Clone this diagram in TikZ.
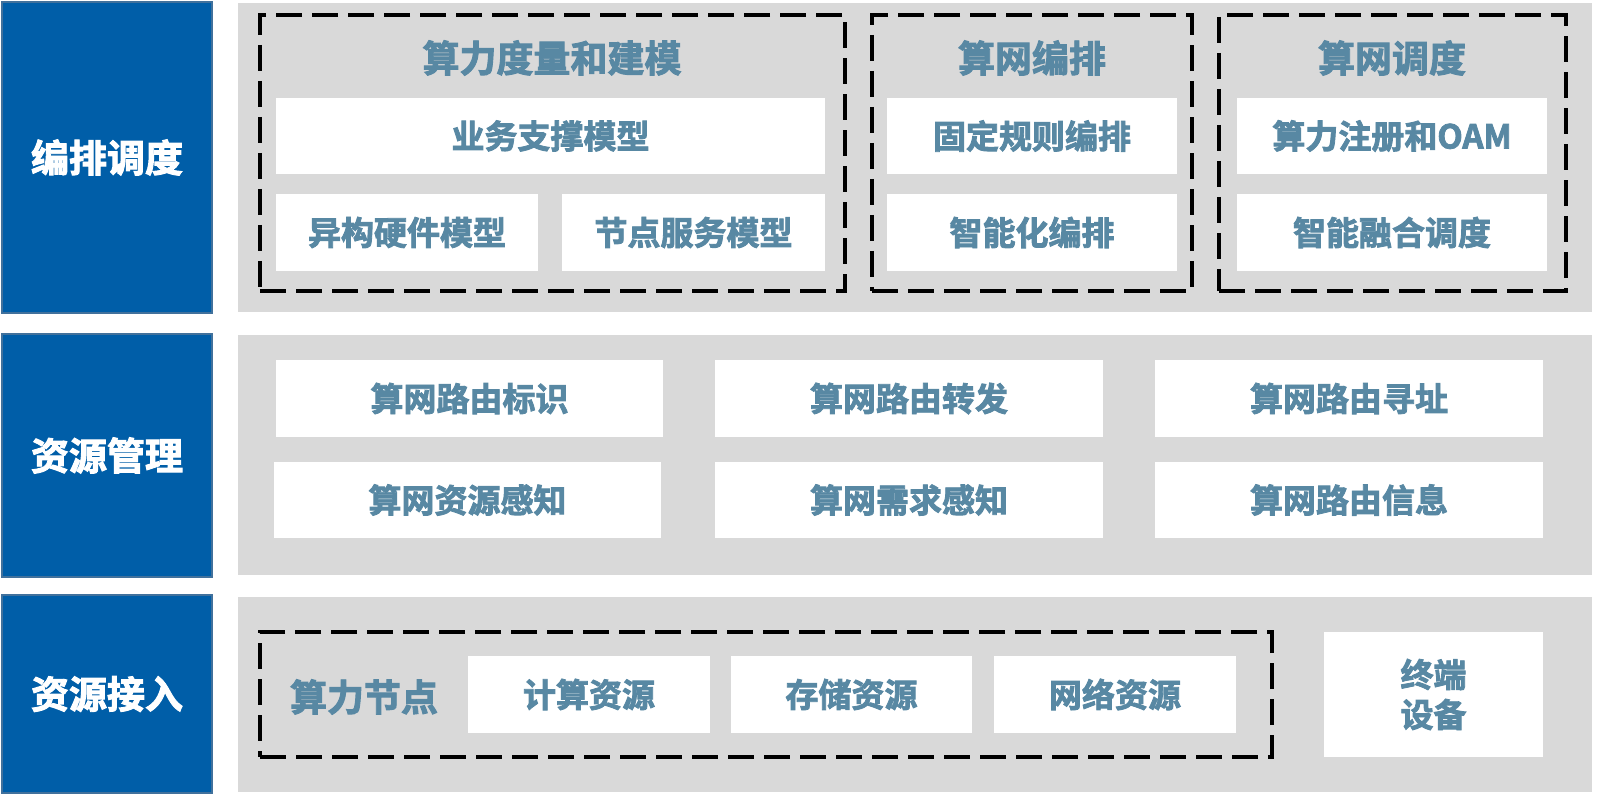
\documentclass[tikz,border=0pt]{standalone}
\usepackage{fontspec}
\setmainfont{Noto Sans CJK SC}[BoldFont={* Bold}]
\newfontfamily\cjkb{Noto Sans CJK SC Bold}[FakeBold=2.5]
\definecolor{bluefill}{RGB}{0,94,168}
\definecolor{blueline}{RGB}{65,113,156}
\definecolor{panelgray}{RGB}{217,217,217}
\definecolor{txt}{RGB}{88,136,163}
\newcommand\mybox[7]{%
  \node[#7, minimum width={(#4-#2)*0.5pt}, minimum height={(#5-#3)*0.5pt}]
    (#1) at ({(#2+#4)/2},{(#3+#5)/2}) {#6};}
\begin{document}
\begin{tikzpicture}[x=0.5pt,y=-0.5pt,
  every node/.style={inner sep=0pt,outer sep=0pt,font=\cjkb},
  layer/.style={rectangle,fill=bluefill,draw=blueline,line width=1pt,text=white,font=\cjkb\fontsize{19pt}{22pt}\selectfont},
  panel/.style={rectangle,fill=panelgray},
  wbox/.style={rectangle,fill=white,text=txt,font=\cjkb\fontsize{16.5pt}{20pt}\selectfont,align=center},
  group/.style={rectangle,draw=black,line width=1.6pt,dash pattern=on 13pt off 5pt},
  gtitle/.style={text=txt,font=\cjkb\fontsize{18.5pt}{22pt}\selectfont}]
\useasboundingbox (0,0) rectangle (1600,801);
% left layer labels
\mybox{l1}{2}{2}{212}{313}{编排调度}{layer}
\mybox{l2}{2}{334}{212}{577}{资源管理}{layer}
\mybox{l3}{2}{595}{212}{793}{资源接入}{layer}
% panels
\mybox{p1}{238}{3}{1592}{312}{}{panel}
\mybox{p2}{238}{335}{1592}{575}{}{panel}
\mybox{p3}{238}{597}{1592}{792}{}{panel}
% top groups
\mybox{gA}{260}{15}{845}{291}{}{group}
\mybox{gB}{872}{15}{1192}{291}{}{group}
\mybox{gC}{1219}{15}{1566}{291}{}{group}
\node[gtitle] (tA) at (552,58) {算力度量和建模};
\node[gtitle] (tB) at (1032,58) {算网编排};
\node[gtitle] (tC) at (1392,58) {算网调度};
\mybox{a1}{276}{98}{825}{174}{业务支撑模型}{wbox}
\mybox{a2}{276}{194}{538}{271}{异构硬件模型}{wbox}
\mybox{a3}{562}{194}{825}{271}{节点服务模型}{wbox}
\mybox{b1}{887}{98}{1177}{174}{固定规则编排}{wbox}
\mybox{b2}{887}{194}{1177}{271}{智能化编排}{wbox}
\mybox{c1}{1237}{98}{1547}{174}{算力注册和OAM}{wbox}
\mybox{c2}{1237}{194}{1547}{271}{智能融合调度}{wbox}
% middle
\mybox{m1}{276}{360}{663}{437}{算网路由标识}{wbox}
\mybox{m2}{715}{360}{1103}{437}{算网路由转发}{wbox}
\mybox{m3}{1155}{360}{1543}{437}{算网路由寻址}{wbox}
\mybox{m4}{274}{462}{661}{538}{算网资源感知}{wbox}
\mybox{m5}{715}{462}{1103}{538}{算网需求感知}{wbox}
\mybox{m6}{1155}{462}{1543}{538}{算网路由信息}{wbox}
% bottom
\mybox{gN}{260}{632}{1272}{757}{}{group}
\node[gtitle] (tN) at (364,697) {算力节点};
\mybox{n1}{468}{656}{710}{733}{计算资源}{wbox}
\mybox{n2}{731}{656}{972}{733}{存储资源}{wbox}
\mybox{n3}{994}{656}{1236}{733}{网络资源}{wbox}
\mybox{dev}{1324}{632}{1543}{757}{终端\\设备}{wbox}
\end{tikzpicture}
\end{document}
